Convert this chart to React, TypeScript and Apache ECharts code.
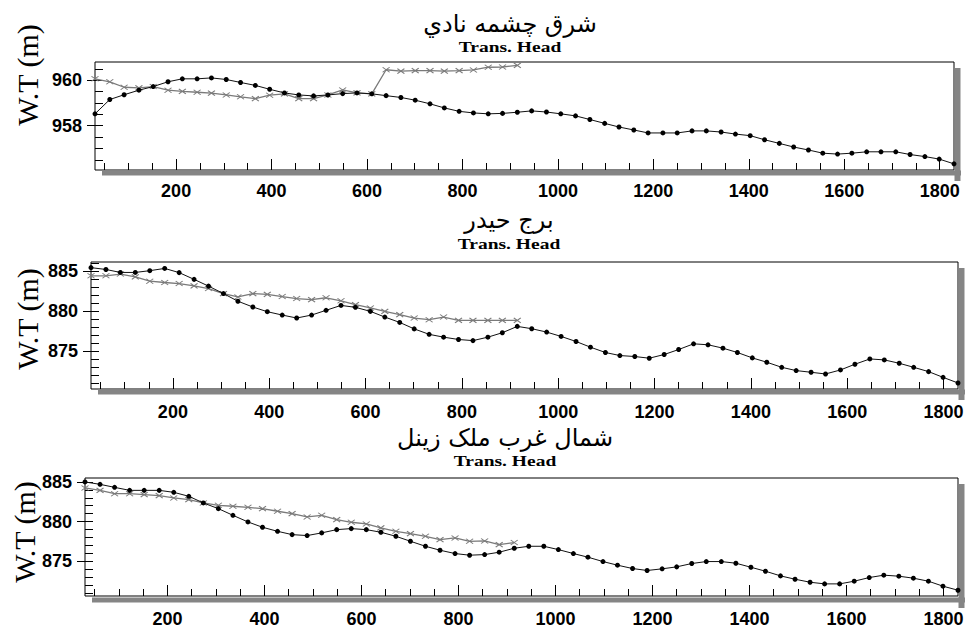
import React, { useEffect, useRef } from "react";
import * as echarts from "echarts";

// Distance along the transect (m) – one value per simulated point
const distance = [
  30, 61, 91, 122, 152, 183, 213, 244, 274, 305, 335, 366, 396, 427, 457, 488, 518, 549, 579, 610,
  640, 671, 701, 732, 762, 793, 823, 854, 884, 915, 945, 976, 1006, 1037, 1067, 1098, 1128, 1159, 1189, 1220,
  1250, 1281, 1311, 1342, 1372, 1403, 1433, 1464, 1494, 1525, 1555, 1586, 1616, 1647, 1677, 1708, 1738, 1769, 1799, 1830,
];

// Panel 1 – شرق چشمه نادي
const p1Dots = [
  958.52, 959.15, 959.36, 959.56, 959.72, 959.93, 960.06, 960.06, 960.1, 960.03,
  959.9, 959.77, 959.6, 959.44, 959.35, 959.31, 959.35, 959.41, 959.44, 959.4,
  959.32, 959.24, 959.12, 958.96, 958.78, 958.63, 958.56, 958.52, 958.54, 958.59,
  958.65, 958.6, 958.52, 958.43, 958.27, 958.1, 957.94, 957.81, 957.68, 957.68,
  957.68, 957.77, 957.77, 957.72, 957.63, 957.56, 957.38, 957.22, 957.06, 956.93,
  956.79, 956.75, 956.79, 956.85, 956.85, 956.85, 956.73, 956.64, 956.53, 956.32,
];
const p1Cross = [
  960.06, 959.93, 959.69, 959.66, 959.72, 959.56, 959.51, 959.47, 959.43, 959.35,
  959.27, 959.19, 959.34, 959.4, 959.19, 959.19, 959.35, 959.57, 959.44, 959.4,
  960.46, 960.4, 960.42, 960.42, 960.4, 960.42, 960.45, 960.57, 960.58, 960.65,
];

// Panel 2 – برج حيدر
const p2Dots = [
  885.4, 885.17, 884.8, 884.8, 885.02, 885.3, 884.78, 883.94, 883.1, 882.17,
  881.22, 880.5, 879.92, 879.5, 879.13, 879.5, 880.09, 880.7, 880.46, 879.96,
  879.25, 878.58, 877.78, 877.1, 876.75, 876.46, 876.32, 876.75, 877.3, 878.09,
  877.8, 877.38, 876.84, 876.21, 875.5, 874.84, 874.46, 874.34, 874.13, 874.59,
  875.21, 875.92, 875.8, 875.38, 874.84, 874.17, 873.63, 873.0, 872.59, 872.38,
  872.17, 872.67, 873.38, 874.04, 873.92, 873.5, 873.0, 872.46, 871.75, 871.05,
];
const p2Cross = [
  884.38, 884.38, 884.6, 884.25, 883.71, 883.55, 883.42, 883.13, 882.8, 882.17,
  881.75, 882.17, 882.07, 881.8, 881.55, 881.42, 881.65, 881.27, 880.8, 880.38,
  879.96, 879.55, 879.13, 878.92, 879.25, 878.84, 878.84, 878.84, 878.84, 878.84,
];

// Panel 3 – شمال غرب ملک زينل
const p3Dots = [
  885.0, 884.7, 884.32, 883.94, 883.94, 883.94, 883.69, 883.19, 882.35, 881.63,
  880.79, 879.95, 879.28, 878.77, 878.35, 878.23, 878.57, 878.98, 879.11, 878.98,
  878.65, 878.14, 877.51, 876.88, 876.38, 875.96, 875.75, 875.83, 876.13, 876.63,
  876.88, 876.88, 876.46, 875.96, 875.5, 874.95, 874.49, 874.07, 873.82, 874.03,
  874.28, 874.7, 874.95, 874.95, 874.74, 874.23, 873.73, 873.14, 872.72, 872.34,
  872.13, 872.13, 872.47, 872.93, 873.23, 873.1, 872.85, 872.47, 871.84, 871.33,
];
const p3Cross = [
  884.24, 883.94, 883.52, 883.52, 883.4, 883.27, 882.98, 882.77, 882.35, 882.05,
  881.93, 881.8, 881.63, 881.3, 881.0, 880.58, 880.79, 880.25, 879.91, 879.7,
  879.2, 878.77, 878.48, 878.14, 877.72, 877.93, 877.51, 877.55, 877.09, 877.35,
];

const titles = ["شرق چشمه نادي", "برج حيدر", "شمال غرب ملک زينل"];
const subTitle = "Trans. Head";
const yName = "W.T (m)";

const xRange = [30, 1830];
const xMajorTicks = [200, 400, 600, 800, 1000, 1200, 1400, 1600, 1800];
const xMinorTicks = [
  50, 100, 150, 200, 250, 300, 350, 400, 450, 500, 550, 600, 650, 700, 750, 800, 850, 900,
  950, 1000, 1050, 1100, 1150, 1200, 1250, 1300, 1350, 1400, 1450, 1500, 1550, 1600, 1650, 1700, 1750, 1800,
];

const yRanges = [
  [956.05, 960.8],
  [870.3, 886.1],
  [870.6, 885.5],
];
const yMajorTicks = [
  [958, 960],
  [875, 880, 885],
  [875, 880, 885],
];
const yMinorTicks = [
  [956.5, 957, 957.5, 958, 958.5, 959, 959.5, 960, 960.5],
  [871, 872, 873, 874, 875, 876, 877, 878, 879, 880, 881, 882, 883, 884, 885, 886],
  [871, 872, 873, 874, 875, 876, 877, 878, 879, 880, 881, 882, 883, 884, 885],
];

const dotSeries = [p1Dots, p2Dots, p3Dots];
const crossSeries = [p1Cross, p2Cross, p3Cross];

// layout (pixels)
const grids = [
  { left: 95, top: 62, width: 859, height: 108 },
  { left: 91, top: 262, width: 867, height: 127 },
  { left: 85, top: 478, width: 873, height: 119 },
];
const titleY = [24, 220, 438];
const subY = [47.5, 244, 461.5];
const titleX = [510, 509, 505];
const yNamePos = [
  [27, 75],
  [27, 319],
  [24, 532],
];
const xLabelMargin = [12, 14, 14];

const labelFont = {
  fontFamily: '"Liberation Sans", Arial, sans-serif',
  fontWeight: "bold" as const,
  fontSize: 18,
  color: "#000",
};
const plain = (v: number) => String(v);

function buildOption() {
  const grid: any[] = [];
  const xAxis: any[] = [];
  const yAxis: any[] = [];
  const series: any[] = [];
  const graphic: any[] = [];

  for (let k = 0; k < 3; k++) {
    const g = grids[k];
    grid.push({
      left: g.left,
      top: g.top,
      width: g.width,
      height: g.height,
      show: true,
      backgroundColor: "transparent",
      borderColor: "#000",
      borderWidth: 1,
    });
    // minor x ticks
    xAxis.push({
      type: "value",
      gridIndex: k,
      position: "bottom",
      min: xRange[0],
      max: xRange[1],
      axisLine: { show: false, onZero: false },
      axisTick: { show: true, inside: true, length: 7, customValues: xMinorTicks, lineStyle: { color: "#000" } },
      axisLabel: { show: false },
      splitLine: { show: false },
    });
    // major x ticks with labels
    xAxis.push({
      type: "value",
      gridIndex: k,
      position: "bottom",
      min: xRange[0],
      max: xRange[1],
      axisLine: { show: false, onZero: false },
      axisTick: { show: true, inside: true, length: 11, customValues: xMajorTicks, lineStyle: { color: "#000" } },
      axisLabel: { show: true, customValues: xMajorTicks, margin: xLabelMargin[k], formatter: plain, ...labelFont },
      splitLine: { show: false },
    });
    // minor y ticks (inside)
    yAxis.push({
      type: "value",
      gridIndex: k,
      position: "left",
      min: yRanges[k][0],
      max: yRanges[k][1],
      axisLine: { show: false, onZero: false },
      axisTick: { show: true, inside: true, length: 8, customValues: yMinorTicks[k], lineStyle: { color: "#000" } },
      axisLabel: { show: false },
      splitLine: { show: false },
    });
    // major y ticks (outside) with labels
    yAxis.push({
      type: "value",
      gridIndex: k,
      position: "left",
      min: yRanges[k][0],
      max: yRanges[k][1],
      axisLine: { show: false, onZero: false },
      axisTick: { show: true, inside: false, length: 8, customValues: yMajorTicks[k], lineStyle: { color: "#000" } },
      axisLabel: { show: true, customValues: yMajorTicks[k], margin: 13, formatter: plain, ...labelFont },
      splitLine: { show: false },
    });

    series.push({
      type: "line",
      xAxisIndex: 2 * k,
      yAxisIndex: 2 * k,
      data: crossSeries[k].map((v, i) => [distance[i], v]),
      symbol: "path://M0,0L10,10M10,0L0,10",
      symbolSize: [7, 5],
      showSymbol: true,
      lineStyle: { color: "#7a7a7a", width: 1.3 },
      itemStyle: { color: "#7a7a7a", borderColor: "#7a7a7a", borderWidth: 1 },
      z: 3,
    });
    series.push({
      type: "line",
      xAxisIndex: 2 * k,
      yAxisIndex: 2 * k,
      data: dotSeries[k].map((v, i) => [distance[i], v]),
      symbol: "circle",
      symbolSize: 5,
      showSymbol: true,
      lineStyle: { color: "#111", width: 1 },
      itemStyle: { color: "#000", borderWidth: 0 },
      z: 4,
    });

    // shadow strips
    graphic.push({
      type: "rect",
      shape: { x: g.left + 7, y: g.top + g.height + 0.5, width: g.width, height: 5 },
      style: { fill: "#858585" },
      silent: true,
    });
    graphic.push({
      type: "rect",
      shape: { x: g.left + g.width + 0.5, y: g.top + 6, width: 6, height: g.height + 5 },
      style: { fill: "#858585" },
      silent: true,
    });

    // titles
    graphic.push({
      type: "text",
      x: titleX[k],
      y: titleY[k],
      style: {
        text: titles[k],
        font: '24px "DejaVu Sans", sans-serif',
        fill: "#000",
        textAlign: "center",
        textVerticalAlign: "middle",
        align: "center",
        verticalAlign: "middle",
      },
    });
    graphic.push({
      type: "text",
      x: titleX[k],
      y: subY[k],
      scaleX: 1.3,
      style: {
        text: subTitle,
        font: 'bold 15px "Liberation Serif", "Times New Roman", serif',
        fill: "#000",
        textAlign: "center",
        textVerticalAlign: "middle",
        align: "center",
        verticalAlign: "middle",
      },
    });
    graphic.push({
      type: "text",
      x: yNamePos[k][0],
      y: yNamePos[k][1],
      rotation: Math.PI / 2,
      style: {
        text: yName,
        font: '30px "Liberation Serif", "Times New Roman", serif',
        fill: "#000",
        textAlign: "center",
        textVerticalAlign: "middle",
        align: "center",
        verticalAlign: "middle",
      },
    });
  }

  return {
    animation: false,
    backgroundColor: "#fff",
    grid,
    xAxis,
    yAxis,
    series,
    graphic: { elements: graphic },
  };
}

export default function App() {
  const ref = useRef<HTMLDivElement>(null);
  useEffect(() => {
    if (!ref.current) return;
    const chart = echarts.init(ref.current, null, { renderer: "svg" });
    chart.setOption(buildOption() as any);
    return () => chart.dispose();
  }, []);
  return (
    <div
      ref={ref}
      style={{ position: "fixed", left: 0, top: 0, width: 969, height: 628, background: "#fff" }}
    />
  );
}
